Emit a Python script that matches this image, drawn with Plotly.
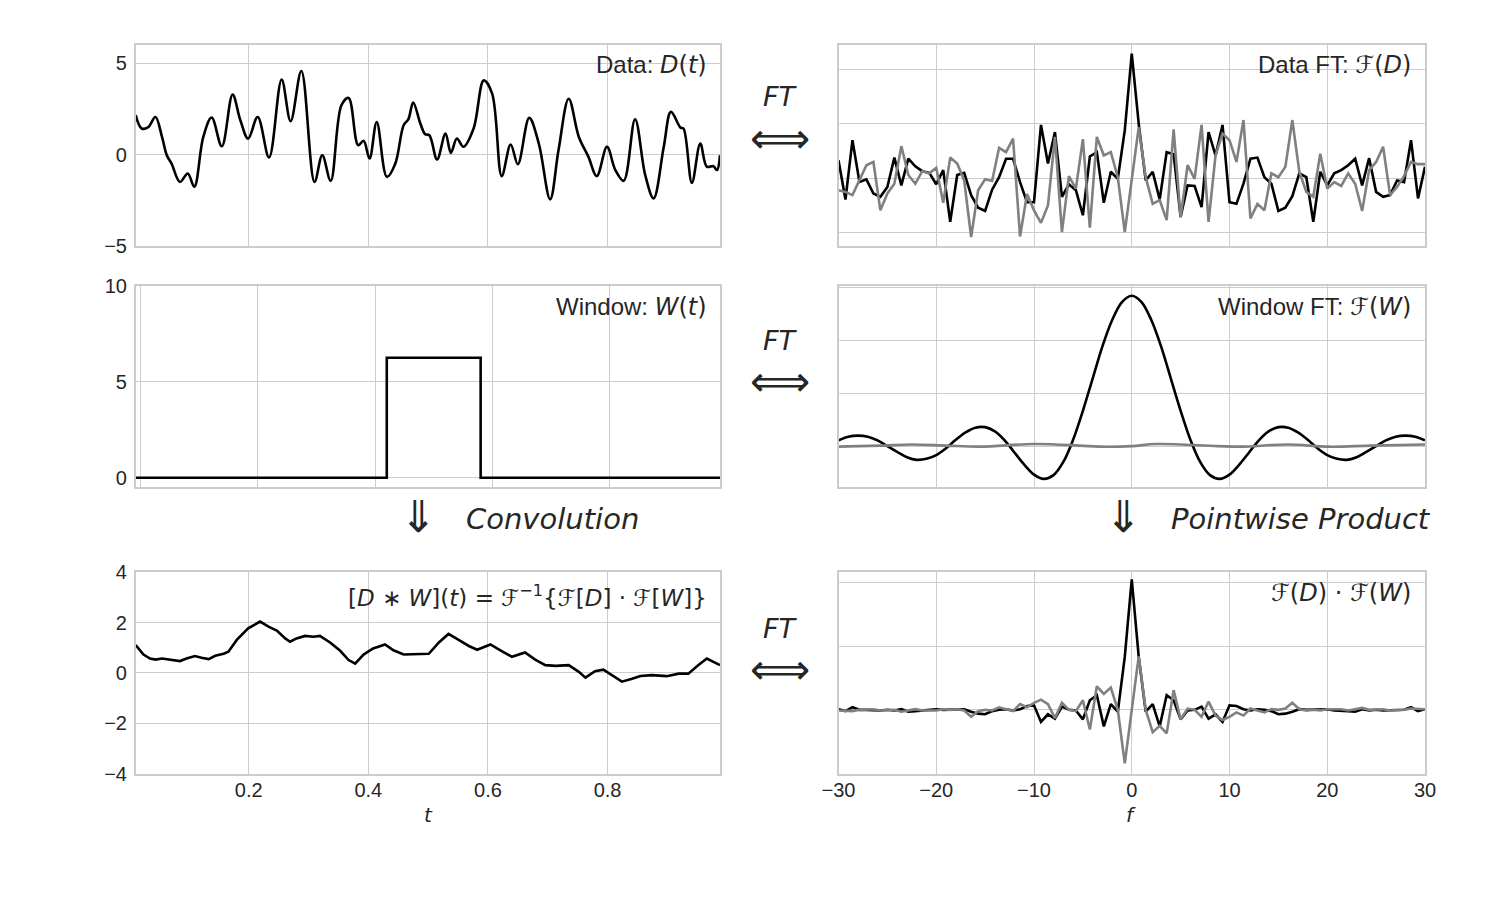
import numpy as np
import plotly.graph_objects as go

# ---------------- data ----------------
# Data D(t)
data_t = [0.011, 0.021, 0.032, 0.044, 0.055, 0.063, 0.071, 0.085, 0.098, 0.109, 0.124, 0.138, 0.155, 0.173,
          0.186, 0.199, 0.215, 0.234, 0.255, 0.270, 0.288, 0.310, 0.323, 0.337, 0.355, 0.367, 0.383, 0.392,
          0.402, 0.414, 0.431, 0.445, 0.459, 0.467, 0.475, 0.487, 0.495, 0.502, 0.515, 0.529, 0.538, 0.548,
          0.559, 0.576, 0.593, 0.607, 0.623, 0.638, 0.650, 0.669, 0.685, 0.704, 0.718, 0.735, 0.752, 0.768,
          0.782, 0.799, 0.813, 0.827, 0.846, 0.863, 0.877, 0.894, 0.906, 0.922, 0.927, 0.941, 0.955, 0.966,
          0.977, 0.983, 0.988]
data_v = [2.15, 1.42, 1.5, 2.05, 0.96, -0.04, -0.5, -1.5, -1.04, -1.76, 0.96, 2.02, 0.45, 3.27, 1.87, 0.87,
          2.05, -0.16, 4.1, 1.82, 4.56, -1.5, -0.04, -1.44, 2.69, 3.09, 0.51, 0.75, -0.22, 1.78, -1.22, -0.5,
          1.6, 1.93, 2.84, 1.69, 1.11, 1.05, -0.27, 1.15, 0.09, 0.87, 0.42, 1.42, 4.05, 3.33, -1.18, 0.55,
          -0.53, 2.0, 0.6, -2.45, 0.24, 3.05, 0.96, -0.13, -1.18, 0.42, -0.85, -1.44, 1.93, -1.13, -2.4, 0.42,
          2.33, 1.47, 1.42, -1.55, 0.6, -0.67, -0.64, -0.85, -0.04]

# Window W(t)
win_t = [-0.008, 0.42, 0.58, 0.988]
win_v = [0.0, 6.25, 0.0, 0.0]

# Convolution
conv_t = [0.011, 0.024, 0.035, 0.044, 0.055, 0.063, 0.071, 0.085, 0.096, 0.110, 0.121, 0.133, 0.144, 0.158,
          0.166, 0.180, 0.199, 0.219, 0.233, 0.247, 0.261, 0.269, 0.280, 0.294, 0.308, 0.319, 0.336, 0.353,
          0.367, 0.378, 0.392, 0.408, 0.428, 0.442, 0.459, 0.475, 0.501, 0.518, 0.534, 0.551, 0.568, 0.582,
          0.604, 0.623, 0.640, 0.662, 0.679, 0.696, 0.713, 0.735, 0.752, 0.763, 0.779, 0.793, 0.807, 0.824,
          0.841, 0.855, 0.874, 0.899, 0.919, 0.935, 0.952, 0.966, 0.977, 0.988]
conv_v = [1.11, 0.73, 0.57, 0.53, 0.57, 0.55, 0.51, 0.47, 0.57, 0.67, 0.6, 0.55, 0.68, 0.76, 0.84, 1.31, 1.77,
          2.04, 1.84, 1.68, 1.37, 1.24, 1.37, 1.47, 1.44, 1.47, 1.21, 0.88, 0.51, 0.37, 0.73, 0.97, 1.13, 0.9,
          0.73, 0.73, 0.76, 1.21, 1.55, 1.31, 1.07, 0.92, 1.13, 0.87, 0.64, 0.81, 0.53, 0.31, 0.28, 0.31, 0.04,
          -0.19, 0.07, 0.13, -0.09, -0.35, -0.23, -0.12, -0.09, -0.13, -0.03, -0.03, 0.31, 0.57, 0.44, 0.31]

# frequency samples (k / 1.4, k = -42..42)
freq = np.arange(-42, 43) / 1.4

# Data FT: real (black) and imaginary (gray)
dft_re = [0.33, -0.39, 0.70, -0.07, -0.02, -0.28, -0.34, -0.16, 0.38, -0.13, 0.36, 0.22, 0.13, 0.10, -0.11,
          0.15, -0.80, 0.06, 0.10, -0.31, -0.54, -0.60, -0.21, 0.02, 0.36, 0.36, -0.07, -0.44, -0.44, 0.98,
          0.27, 0.85, -0.34, -0.11, -0.22, -0.68, 0.40, 0.48, -0.45, 0.12, -0.01, 0.88,
          2.29,
          1.0, -0.04, 0.12, -0.39, 0.48, 0.44, -0.71, -0.13, -0.14, -0.53, 0.85, 0.42, 0.98, -0.44, -0.47,
          -0.10, 0.36, 0.38, 0.02, -0.10, -0.60, -0.54, -0.33, 0.09, 0.02, -0.80, 0.12, -0.13, 0.09, 0.15,
          0.24, 0.36, -0.13, 0.37, -0.25, -0.34, -0.31, -0.04, -0.07, 0.70, -0.37, 0.21]
dft_im = [-0.22, -0.25, -0.31, -0.04, 0.24, 0.30, -0.59, -0.28, -0.10, 0.59, 0.06, -0.10, 0.13, 0.09, 0.19,
          -0.45, 0.38, 0.27, -0.04, -1.08, -0.22, -0.02, -0.05, 0.56, 0.48, 0.73, -1.07, -0.29, -0.59, -0.82,
          -0.50, 0.76, -0.99, 0.04, -0.19, 0.72, -0.91, 0.76, 0.42, 0.48, 0.02, -0.99,
          0.0,
          0.94, 0.02, -0.47, -0.40, -0.77, 0.90, -0.72, 0.24, -0.01, 0.98, -0.80, 0.42, 0.82, 0.70, 0.30,
          1.07, -0.74, -0.47, -0.59, 0.09, 0.02, 0.21, 1.07, 0.12, -0.25, -0.34, 0.45, -0.19, -0.07, -0.14,
          0.09, -0.10, -0.60, 0.15, 0.30, 0.58, -0.31, -0.16, 0.04, 0.30, 0.26, 0.26]

# Window FT
wft_f = list(range(-30, 31))
wft_re = [0.11, 0.18, 0.20, 0.18, 0.11, 0.0, -0.11, -0.21, -0.26, -0.24, -0.17, -0.04, 0.12, 0.26, 0.35,
          0.36, 0.28, 0.11, -0.12, -0.35, -0.54, -0.62, -0.55, -0.30, 0.12, 0.67, 1.28, 1.89, 2.39, 2.73,
          2.85,
          2.73, 2.39, 1.89, 1.28, 0.67, 0.12, -0.30, -0.55, -0.62, -0.54, -0.35, -0.12, 0.11, 0.28, 0.36,
          0.35, 0.26, 0.12, -0.04, -0.17, -0.24, -0.26, -0.21, -0.11, 0.0, 0.11, 0.18, 0.20, 0.18, 0.11]
wft_im_f = [-30, -25.7, -22.5, -19, -15.5, -10, -5.3, -3.3, 0, 2.5, 8.8, 11.2, 15.9, 20.2, 24.5, 30]
wft_im = [-0.01, 0.01, 0.03, 0.01, -0.01, 0.04, 0.01, -0.01, 0.0, 0.04, 0.0, -0.01, 0.03, -0.01, 0.01, 0.03]

# Pointwise product
prod_re = [0.01, -0.02, 0.04, 0.0, 0.0, -0.01, -0.01, 0.0, -0.01, 0.01, -0.03, -0.02, -0.01, -0.01, 0.01,
           0.0, 0.0, 0.0, 0.01, -0.03, -0.06, -0.07, -0.02, 0.0, 0.01, -0.01, 0.01, 0.06, 0.07, -0.19,
           -0.07, -0.14, 0.05, 0.0, -0.01, -0.15, 0.15, 0.23, -0.26, 0.09, -0.03, 0.83,
           2.05,
           0.83, -0.03, 0.09, -0.26, 0.23, 0.15, -0.15, -0.01, 0.0, 0.05, -0.14, -0.07, -0.19, 0.07, 0.06,
           0.01, -0.01, 0.01, 0.0, -0.02, -0.07, -0.06, -0.03, 0.01, 0.0, 0.0, 0.0, 0.01, -0.01, -0.01,
           -0.02, -0.03, 0.01, -0.01, 0.0, -0.01, -0.01, 0.0, 0.0, 0.04, -0.02, 0.01]
prod_im = [-0.01, -0.01, -0.02, 0.0, 0.01, 0.01, -0.01, 0.0, 0.0, -0.03, -0.01, 0.01, -0.01, -0.01, -0.01,
           0.01, 0.0, 0.01, -0.01, -0.11, -0.02, 0.0, -0.01, 0.04, 0.01, -0.02, 0.09, 0.04, 0.11, 0.16,
           0.09, -0.13, 0.11, 0.0, -0.02, 0.15, -0.31, 0.37, 0.25, 0.35, 0.0, -0.84,
           0.0,
           0.84, 0.0, -0.35, -0.25, -0.37, 0.31, -0.15, 0.02, 0.0, -0.11, 0.13, -0.09, -0.16, -0.11, -0.04,
           -0.09, 0.02, -0.01, -0.04, 0.01, 0.0, 0.02, 0.11, 0.01, -0.01, 0.0, -0.01, 0.01, 0.01, 0.01,
           -0.01, 0.01, 0.03, 0.0, 0.0, 0.01, -0.01, -0.01, 0.0, 0.02, 0.01, 0.01]

# ---------------- figure ----------------
W, H = 1500, 900
def px(x): return x / W
def py(y): return 1 - y / H

BLACK = '#000000'
GRAY = '#808080'
GRID = '#cccccc'
TXT = '#262626'
LW = 2.6

fig = go.Figure()

def line(x, y, color, ax, shape='linear'):
    fig.add_trace(go.Scatter(x=x, y=y, mode='lines', line=dict(color=color, width=LW, shape=shape),
                             xaxis='x' + ax, yaxis='y' + ax, showlegend=False, hoverinfo='skip'))

line(data_t, data_v, BLACK, '', 'spline')
line(list(freq), dft_re, BLACK, '2')
line(list(freq), dft_im, GRAY, '2')
line(win_t, win_v, BLACK, '3', 'hv')
line(wft_f, wft_re, BLACK, '4', 'spline')
line(wft_im_f, wft_im, GRAY, '4', 'spline')
line(conv_t, conv_v, BLACK, '5')
line(list(freq), prod_re, BLACK, '6')
line(list(freq), prod_im, GRAY, '6')

XL = [px(135.7), px(720)]
XR = [px(838.5), px(1425)]
R1 = [py(246), py(44.7)]
R2 = [py(487.3), py(285.7)]
R3 = [py(773.5), py(572.3)]

tickfont = dict(family='Liberation Sans, Arial, sans-serif', size=20, color=TXT)

def ax(domain, rng, tickvals, labels, anchor, standoff):
    return dict(domain=domain, range=rng, tickvals=tickvals, showticklabels=labels, anchor=anchor,
                showgrid=True, gridcolor=GRID, gridwidth=1.3, showline=True, linecolor=GRID,
                linewidth=1.5, mirror=True, zeroline=False, ticks='', tickfont=tickfont,
                ticklabelstandoff=standoff, fixedrange=True, automargin=False)

XS, YS = -2, 3
layout_axes = dict(
    xaxis=ax(XL, [0.011, 0.988], [0.2, 0.4, 0.6, 0.8], False, 'y', XS),
    yaxis=ax(R1, [-5, 6], [-5, 0, 5], True, 'x', YS),
    xaxis2=ax(XR, [-30, 30], [-30, -20, -10, 0, 10, 20, 30], False, 'y2', XS),
    yaxis2=ax(R1, [-1.245, 2.455], [-1, 0, 1, 2], False, 'x2', YS),
    xaxis3=ax(XL, [-0.008, 0.988], [0.0, 0.2, 0.4, 0.6, 0.8], False, 'y3', XS),
    yaxis3=ax(R2, [-0.5, 10], [0, 5, 10], True, 'x3', YS),
    xaxis4=ax(XR, [-30, 30], [-30, -20, -10, 0, 10, 20, 30], False, 'y4', XS),
    yaxis4=ax(R2, [-0.78, 3.04], [0, 1, 2, 3], False, 'x4', YS),
    xaxis5=ax(XL, [0.011, 0.988], [0.2, 0.4, 0.6, 0.8], True, 'y5', XS),
    yaxis5=ax(R3, [-4, 4], [-4, -2, 0, 2, 4], True, 'x5', YS),
    xaxis6=ax(XR, [-30, 30], [-30, -20, -10, 0, 10, 20, 30], True, 'y6', XS),
    yaxis6=ax(R3, [-1.0, 2.16], [-1, 0, 1, 2], False, 'x6', YS),
)

MATH = 'DejaVu Sans'
def m(s):
    return '<span style="font-family:DejaVu Sans">' + s + '</span>'

ann = []
def text(x, y, s, size, xanchor='center', family='Liberation Sans, Arial, sans-serif'):
    ann.append(dict(x=px(x), y=py(y), xref='paper', yref='paper', text=s, showarrow=False,
                    xanchor=xanchor, yanchor='middle', font=dict(family=family, size=size, color=TXT)))

LBL = 24
text(709, 65, 'Data: ' + m('<i>D</i>(<i>t</i>)'), LBL, 'right')
text(1413, 65, 'Data FT: ' + m('ℱ(<i>D</i>)'), LBL, 'right')
text(709, 307, 'Window: ' + m('<i>W</i>(<i>t</i>)'), LBL, 'right')
text(1413, 307, 'Window FT: ' + m('ℱ(<i>W</i>)'), LBL, 'right')
text(709, 596, '[<i>D</i> ∗ <i>W</i>](<i>t</i>) = ℱ<sup>−1</sup>{ℱ[<i>D</i>] · ℱ[<i>W</i>]}', 23, 'right', MATH)
text(1413, 593, 'ℱ(<i>D</i>) · ℱ(<i>W</i>)', LBL, 'right', MATH)

for yf, ya in [(97, 138), (340, 382), (628, 669)]:
    text(780, yf, '<i>FT</i>', 27, 'center', MATH)
    text(780, ya, '⟺', 42, 'center', MATH)

text(418, 516, '⇓', 44, 'center', MATH)
text(464, 519, '<i>Convolution</i>', 29, 'left', MATH)
text(1123, 516, '⇓', 44, 'center', MATH)
text(1169, 519, '<i>Pointwise Product</i>', 29, 'left', MATH)

text(428, 815, '<i>t</i>', 20, 'center', MATH)
text(1131, 815, '<i>f</i>', 20, 'center', MATH)

fig.update_layout(width=W, height=H, margin=dict(l=0, r=0, t=0, b=0), paper_bgcolor='white',
                  plot_bgcolor='white', showlegend=False, annotations=ann, **layout_axes)

fig.write_html('out.html')
